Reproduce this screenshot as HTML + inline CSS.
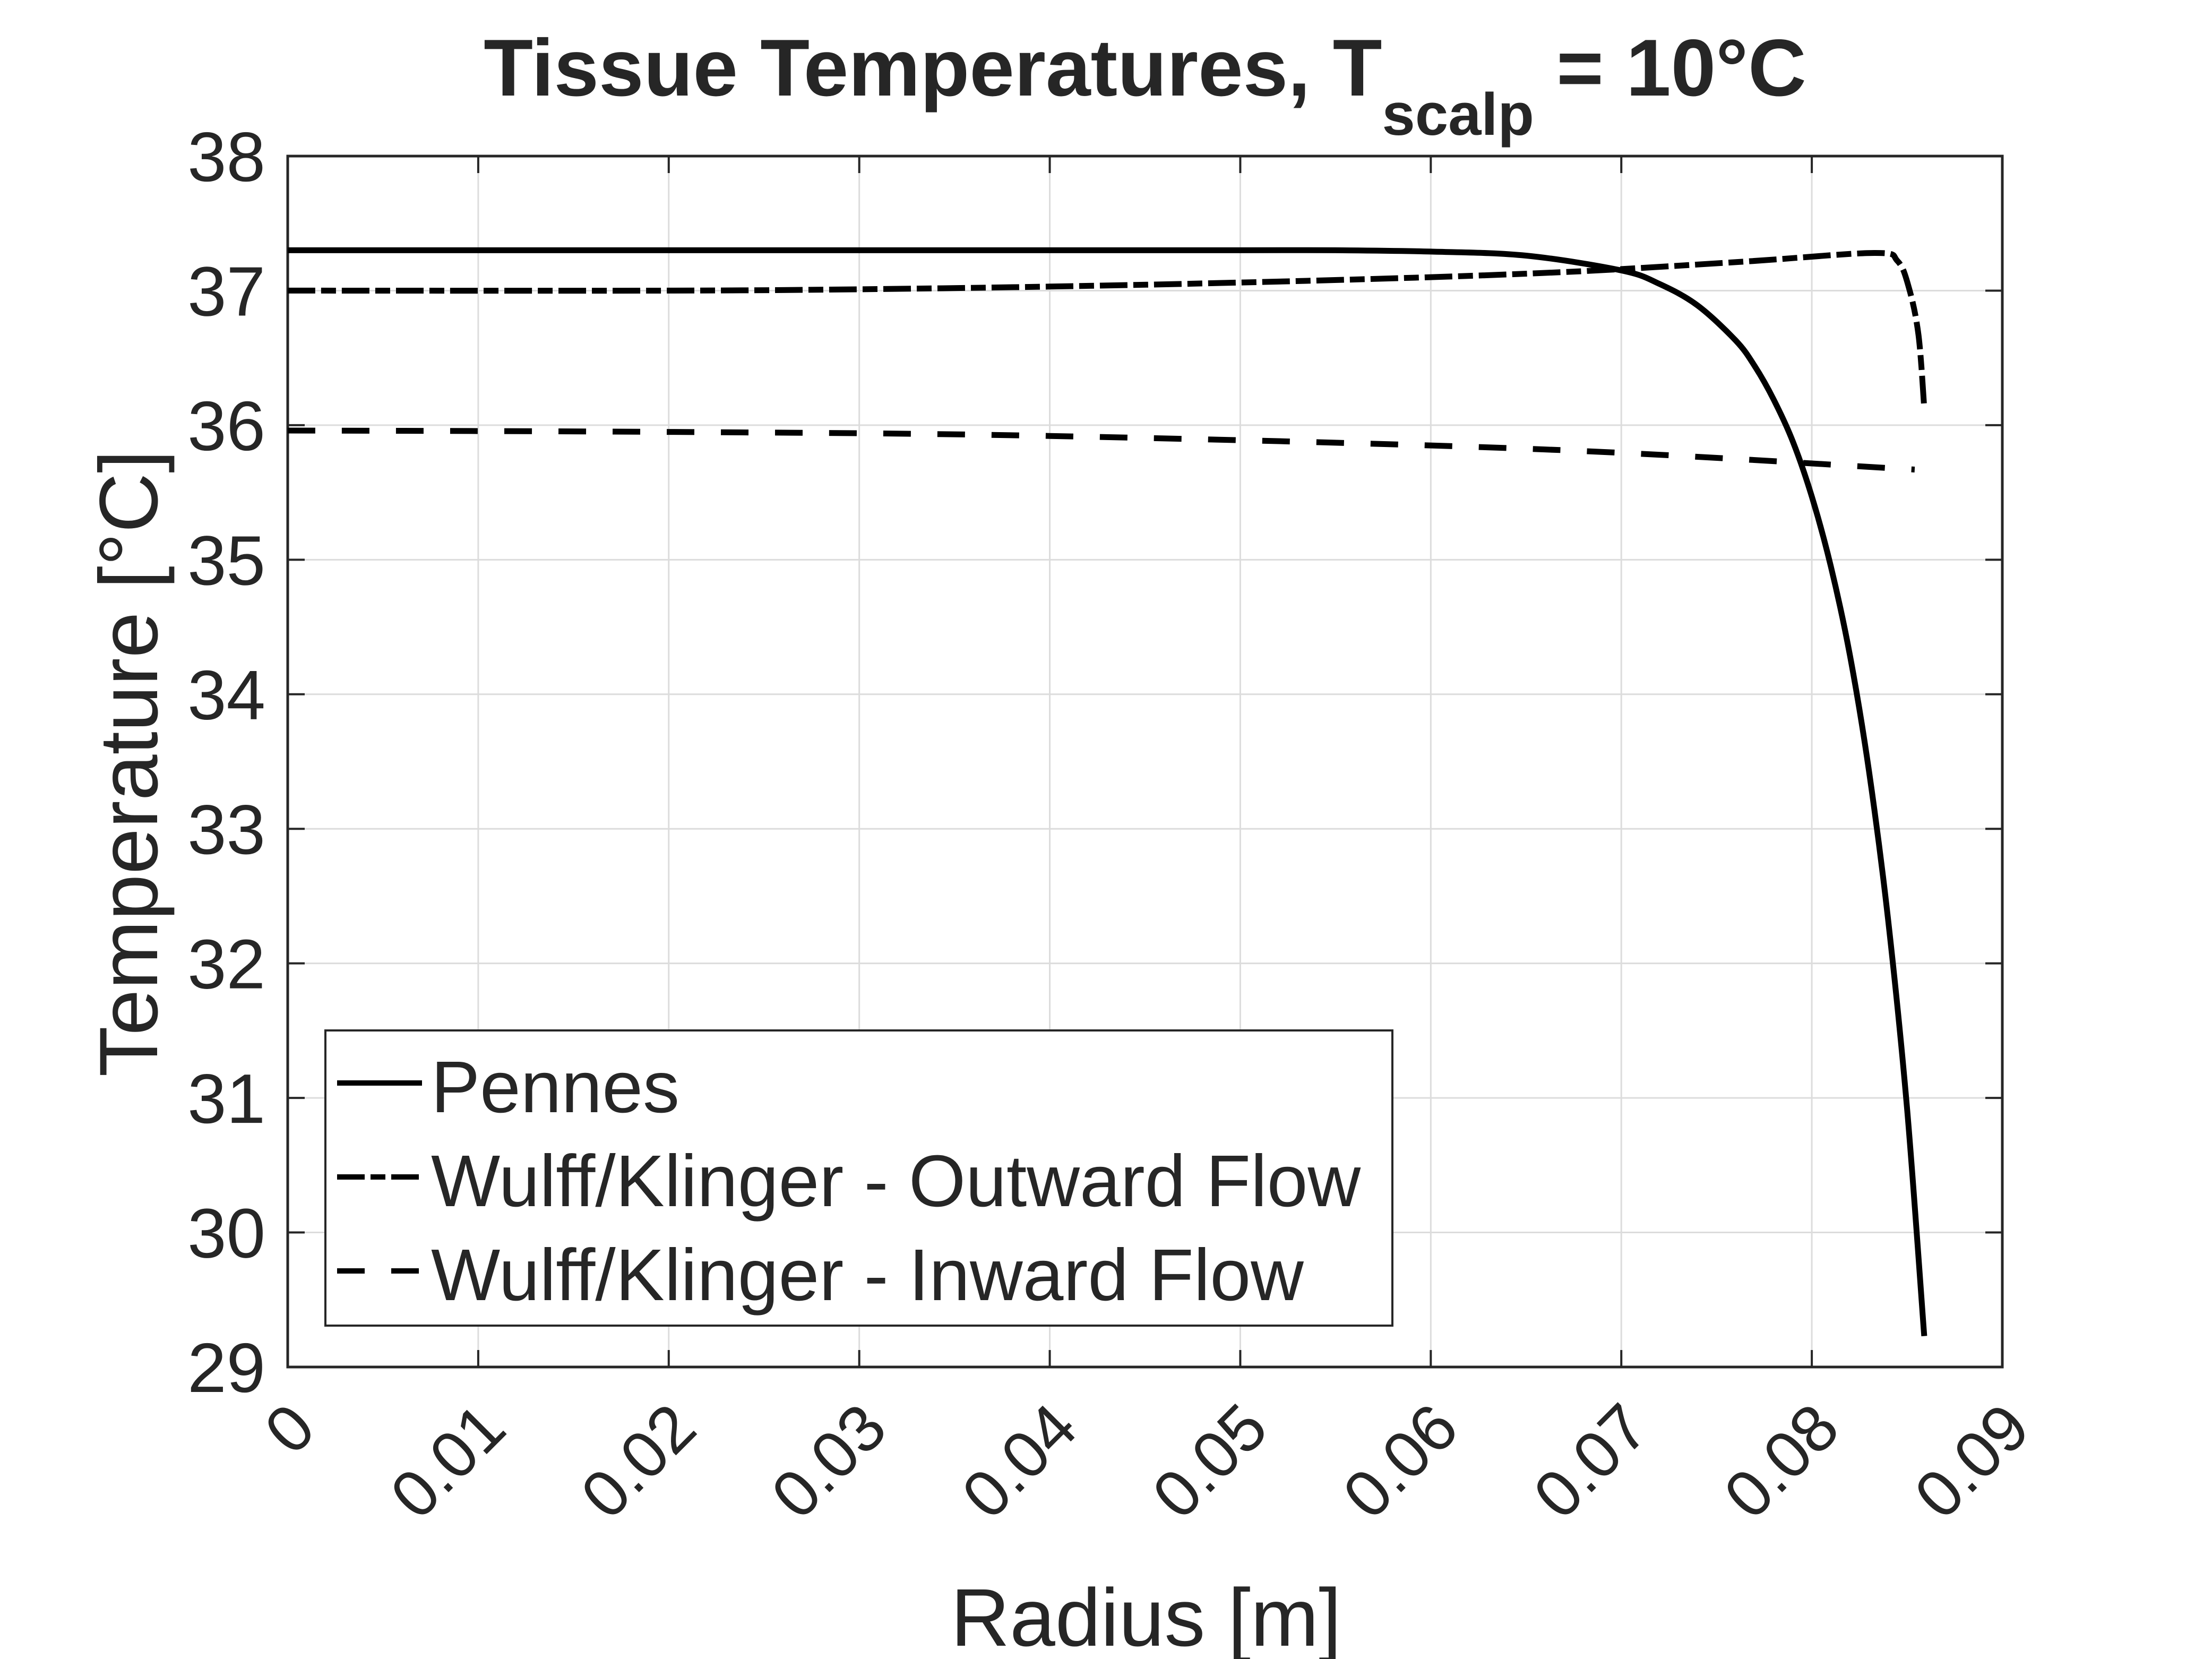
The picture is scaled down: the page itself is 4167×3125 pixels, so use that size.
<!DOCTYPE html>
<html><head><meta charset="utf-8"><style>
html,body{margin:0;padding:0;background:#fff}
svg{display:block}
text{font-family:"Liberation Sans",Arial,sans-serif;fill:#262626}
</style></head><body>
<svg id="chart" width="4167" height="3125" viewBox="0 0 4167 3125" xmlns="http://www.w3.org/2000/svg">
<rect width="4167" height="3125" fill="#fff"/>
<g id="grid"></g>
<rect x="542" y="294" width="3230" height="2281" fill="none" stroke="#262626" stroke-width="5"/>
<g id="ticks"></g>
<g id="series"></g>
<text x="2157" y="180" text-anchor="middle" font-weight="bold" font-size="152">Tissue Temperatures, T<tspan font-size="112" dy="74">scalp</tspan><tspan dy="-74"> = 10°C</tspan></text>
<text x="2159" y="3100" text-anchor="middle" font-size="154">Radius [m]</text>
<text transform="translate(296,1438) rotate(-90)" text-anchor="middle" font-size="156">Temperature [°C]</text>
<g>
<rect x="613" y="1941" width="2010" height="556" fill="#fff" stroke="#262626" stroke-width="4"/>
<g><line x1="635" y1="2040" x2="795" y2="2040" stroke="#000" stroke-width="10"/><text x="812" y="2095" font-size="138">Pennes</text></g>
<g><line x1="635" y1="2217" x2="795" y2="2217" stroke="#000" stroke-width="10" stroke-dasharray="52,11,28,11"/><text x="812" y="2272" font-size="138">Wulff/Klinger - Outward Flow</text></g>
<g><line x1="635" y1="2394" x2="795" y2="2394" stroke="#000" stroke-width="10" stroke-dasharray="52,50"/><text x="812" y="2449" font-size="138">Wulff/Klinger - Inward Flow</text></g>
</g>
</svg>
<script>
const xTicks = [0,0.01,0.02,0.03,0.04,0.05,0.06,0.07,0.08,0.09];
const xTickLabels = ["0","0.01","0.02","0.03","0.04","0.05","0.06","0.07","0.08","0.09"];
const yTicks = [29,30,31,32,33,34,35,36,37,38];
const pennesR = [0,0.02,0.04,0.05,0.055,0.06,0.065,0.070,0.072,0.074,0.076,0.077,0.078,0.079,0.080,0.081,0.082,0.083,0.084,0.085,0.0859];
const pennesT = [37.3,37.3,37.3,37.3,37.3,37.29,37.26,37.15,37.05,36.89,36.63,36.44,36.19,35.88,35.47,34.95,34.29,33.43,32.33,30.92,29.23];
const outR = [0,0.02,0.03,0.04,0.05,0.06,0.0657,0.07,0.0769,0.0833,0.0845,0.0851,0.0856,0.0859];
const outT = [37.0,37.0,37.01,37.03,37.06,37.1,37.13,37.16,37.22,37.28,37.22,37.02,36.67,36.13];
const inR = [0,0.02,0.04,0.0659,0.0854];
const inT = [35.96,35.95,35.92,35.82,35.67];

const L=542,R=3772,T=294,B=2575;
const xS=v=>L+(v-0)/0.09*(R-L);
const yS=v=>B-(v-29)/9*(B-T);
const NS="http://www.w3.org/2000/svg";
const grid=document.getElementById('grid'),ticks=document.getElementById('ticks'),series=document.getElementById('series');
function mk(tag,attrs,parent){const e=document.createElementNS(NS,tag);for(const k in attrs)e.setAttribute(k,attrs[k]);parent.appendChild(e);return e;}
xTicks.forEach((v,i)=>{
  const x=xS(v);
  const g=mk('line',{x1:x,y1:T,x2:x,y2:B,stroke:'#dcdcdc','stroke-width':3},grid);
  
  
  const t1=mk('line',{x1:x,y1:B,x2:x,y2:B-32,stroke:'#262626','stroke-width':4},ticks);
  
  
  const t2=mk('line',{x1:x,y1:T,x2:x,y2:T+32,stroke:'#262626','stroke-width':4},ticks);
  
  
  const lb=mk('text',{transform:`translate(${x+58},${B+122}) rotate(-45)`,'text-anchor':'end','font-size':124},ticks);
  lb.textContent=xTickLabels[i];
  
  
});
yTicks.forEach(v=>{
  const y=yS(v);
  const g=mk('line',{x1:L,y1:y,x2:R,y2:y,stroke:'#dcdcdc','stroke-width':3},grid);
  
  
  const t1=mk('line',{x1:L,y1:y,x2:L+32,y2:y,stroke:'#262626','stroke-width':4},ticks);
  
  
  const t2=mk('line',{x1:R,y1:y,x2:R-32,y2:y,stroke:'#262626','stroke-width':4},ticks);
  
  
  const lb=mk('text',{x:500,y:y+47,'text-anchor':'end','font-size':132},ticks);
  lb.textContent=String(v);
  
  
});
function path(xs,ys){
  const p=xs.map((x,i)=>[xS(x),yS(ys[i])]);
  let d='M'+p[0][0].toFixed(1)+' '+p[0][1].toFixed(1);
  for(let i=0;i<p.length-1;i++){
    const p0=p[Math.max(0,i-1)],p1=p[i],p2=p[i+1],p3=p[Math.min(p.length-1,i+2)];
    const c1=[p1[0]+(p2[0]-p0[0])/6,p1[1]+(p2[1]-p0[1])/6];
    const c2=[p2[0]-(p3[0]-p1[0])/6,p2[1]-(p3[1]-p1[1])/6];
    d+=` C${c1[0].toFixed(1)} ${c1[1].toFixed(1)} ${c2[0].toFixed(1)} ${c2[1].toFixed(1)} ${p2[0].toFixed(1)} ${p2[1].toFixed(1)}`;
  }
  return d;
}
const p1=mk('path',{d:path(inR,inT),fill:'none',stroke:'#000','stroke-width':11,'stroke-dasharray':'52,50'},series);


const p2=mk('path',{d:path(outR,outT),fill:'none',stroke:'#000','stroke-width':11,'stroke-dasharray':'52,11,28,11'},series);


const p3=mk('path',{d:path(pennesR,pennesT),fill:'none',stroke:'#000','stroke-width':11,'stroke-linejoin':'round'},series);


</script>
</body></html>
